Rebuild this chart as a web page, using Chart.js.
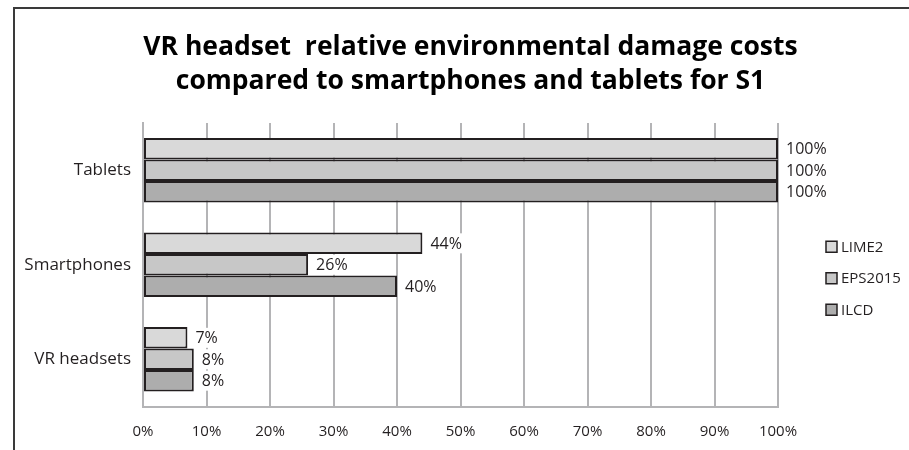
<!DOCTYPE html>
<html>
<head>
<meta charset="utf-8">
<script src="https://cdn.jsdelivr.net/npm/chart.js@4/dist/chart.umd.min.js"></script>
<style>
  html, body { margin: 0; padding: 0; background: #fff; }
  #wrap { width: 909px; height: 450px; position: relative; }
</style>
</head>
<body>
<div id="wrap"><canvas id="chart"></canvas></div>
<script>
// Products compared, and damage cost of each relative to tablets (in %)
const categories = ['Tablets', 'Smartphones', 'VR headsets'];
const seriesNames = ['LIME2', 'EPS2015', 'ILCD'];
const lime2 = [100, 44, 7];
const eps2015 = [100, 26, 8];
const ilcd = [100, 40, 8];
const axisMin = 0;
const axisMax = 100;
const axisStep = 10;

const ink = '#231f20';
const gridGray = '#b4b4b6';
const fills = ['#d9d9d9', '#c7c7c7', '#adadad'];
const textFont = '"Open Sans", "Noto Sans", sans-serif';

// Frame around the figure (top and left edges only fall inside the canvas)
const framePlugin = {
  id: 'frame',
  beforeDraw(chart) {
    const c = chart.ctx;
    c.save();
    c.strokeStyle = '#3a3a3a';
    c.lineWidth = 2;
    c.beginPath();
    c.moveTo(14, chart.height);
    c.lineTo(14, 8);
    c.lineTo(chart.width, 8);
    c.stroke();
    c.restore();
  }
};

// Title sits a little right of the canvas centre, over the plot and key
const titleShift = {
  id: 'titleShift',
  afterLayout(chart) {
    const t = chart.titleBlock;
    if (t) { t.left += 16; t.right += 16; }
  }
};

// Percentage written just past the end of each bar, on a white patch
const valueLabels = {
  id: 'valueLabels',
  afterDatasetsDraw(chart) {
    const c = chart.ctx;
    c.save();
    c.font = '16px ' + textFont;
    c.textBaseline = 'middle';
    c.textAlign = 'left';
    chart.data.datasets.forEach((ds, i) => {
      const meta = chart.getDatasetMeta(i);
      meta.data.forEach((bar, j) => {
        const txt = ds.data[j] + '%';
        const x = bar.x + 8;
        const w = c.measureText(txt).width;
        c.fillStyle = '#fff';
        c.fillRect(x - 2, bar.y - 10, w + 4, 20);
        c.fillStyle = ink;
        c.fillText(txt, x, bar.y + 1);
      });
    });
    c.restore();
  }
};

// Vertical key to the right of the plot
const sideLegend = {
  id: 'sideLegend',
  afterDraw(chart) {
    const c = chart.ctx;
    const area = chart.chartArea;
    const x0 = area.right + 48;
    const yMid = (area.top + area.bottom) / 2 + 13;
    c.save();
    c.font = '15px ' + textFont;
    c.textBaseline = 'middle';
    chart.data.datasets.forEach((ds, i) => {
      const y = yMid + (i - 1) * 31.5;
      c.fillStyle = ds.backgroundColor;
      c.fillRect(x0, y - 5, 11, 11);
      c.strokeStyle = ink;
      c.lineWidth = 1.5;
      c.strokeRect(x0, y - 5, 11, 11);
      c.fillStyle = ink;
      c.fillText(ds.label, x0 + 15, y + 1);
    });
    c.restore();
  }
};

const series = [lime2, eps2015, ilcd];

new Chart(document.getElementById('chart'), {
  type: 'bar',
  data: {
    labels: categories,
    datasets: series.map((vals, i) => ({
      label: seriesNames[i],
      data: vals,
      backgroundColor: fills[i],
      borderColor: ink,
      borderWidth: 2,
      borderSkipped: false,
      barPercentage: 1,
      categoryPercentage: 0.68
    }))
  },
  options: {
    indexAxis: 'y',
    responsive: true,
    maintainAspectRatio: false,
    animation: false,
    layout: { padding: { left: 0, right: 0, top: 0, bottom: 0 } },
    plugins: {
      legend: { display: false },
      tooltip: { enabled: false },
      title: {
        display: true,
        text: ['VR headset  relative environmental damage costs',
               'compared to smartphones and tablets for S1'],
        color: '#000',
        font: { family: textFont, size: 26.5, weight: 'bold', lineHeight: 34 / 26.5 },
        padding: { top: 30, bottom: 25 }
      }
    },
    scales: {
      x: {
        type: 'linear',
        position: 'bottom',
        min: axisMin,
        max: axisMax,
        ticks: {
          stepSize: axisStep,
          color: ink,
          font: { family: textFont, size: 15 },
          padding: 16,
          callback: v => v + '%'
        },
        grid: { color: gridGray, lineWidth: 2, drawTicks: false },
        border: { color: gridGray, width: 2 },
        afterFit(s) { s.height = 43.5; }
      },
      y: {
        type: 'category',
        position: 'left',
        ticks: {
          color: ink,
          font: { family: textFont, size: 17 },
          padding: 12
        },
        grid: { display: false, drawTicks: false },
        border: { color: gridGray, width: 2 },
        afterFit(s) { s.width = 143; }
      },
      keySpace: {
        type: 'linear',
        position: 'right',
        display: true,
        ticks: { display: false },
        grid: { display: false, drawTicks: false },
        border: { display: false },
        afterFit(s) { s.width = 131; }
      }
    }
  },
  plugins: [framePlugin, titleShift, valueLabels, sideLegend]
});
</script>
</body>
</html>
